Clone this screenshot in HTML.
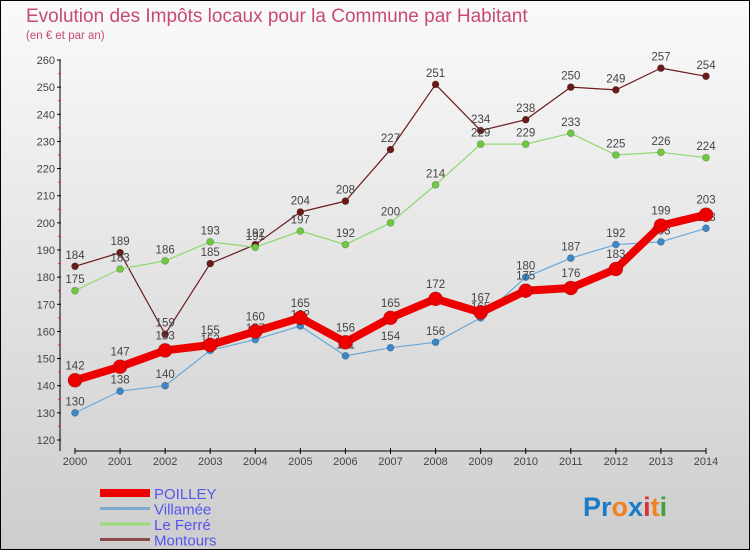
<!DOCTYPE html>
<html><head><meta charset="utf-8"><style>
body{margin:0}
#wrap{width:750px;height:550px;position:relative;overflow:hidden;font-family:"Liberation Sans",sans-serif}
svg text{font-family:"Liberation Sans",sans-serif}
</style></head><body>
<div id="wrap">
<svg id="svg" width="750" height="550" xmlns="http://www.w3.org/2000/svg">
<defs><linearGradient id="bg" x1="0" y1="0" x2="0" y2="1"><stop offset="0" stop-color="#fafafa"/><stop offset="1" stop-color="#cdcdcd"/></linearGradient></defs>
<rect x="0.5" y="0.5" width="749" height="549" fill="url(#bg)" stroke="#000"/>
<text x="26" y="22" font-size="19" fill="#c64a74">Evolution des Impôts locaux pour la Commune par Habitant</text>
<text x="26" y="39" font-size="11.5" fill="#c64a74">(en € et par an)</text>
<g id="axes"></g><g id="series"></g><g id="legend"></g>
<text x="583" y="516" font-size="27" font-weight="bold"><tspan fill="#1a7cc8">Pr</tspan><tspan fill="#f08020">o</tspan><tspan fill="#1a7cc8">x</tspan><tspan fill="#e03030">i</tspan><tspan fill="#f08020">t</tspan><tspan fill="#40a040">i</tspan></text>
</svg></div>
<script>
const years=[2000,2001,2002,2003,2004,2005,2006,2007,2008,2009,2010,2011,2012,2013,2014];
const yTicks=[120,130,140,150,160,170,180,190,200,210,220,230,240,250,260];
const poilley=[142,147,153,155,160,165,156,165,172,167,175,176,183,199,203];
const villamee=[130,138,140,153,157,162,151,154,156,165,180,187,192,193,198];
const leferre=[175,183,186,193,191,197,192,200,214,229,229,233,225,226,224];
const montours=[184,189,159,185,192,204,208,227,251,234,238,250,249,257,254];
const NS="http://www.w3.org/2000/svg";
function xs(i){return 75+i*(706-75)/(years.length-1);}
function ys(v){return 440-(v-120)*(380/140);}
function mk(t,a,p){const e=document.createElementNS(NS,t);for(const k in a)e.setAttribute(k,a[k]);p.appendChild(e);return e;}
const ax=document.getElementById('axes');
let l=mk('line',{x1:60,y1:60,x2:60,y2:451,stroke:'#000','stroke-width':1},ax);


l=mk('line',{x1:75,y1:451,x2:706,y2:451,stroke:'#000','stroke-width':1},ax);


yTicks.forEach(v=>{const y=ys(v);
 mk('line',{x1:57,y1:y,x2:61,y2:y,stroke:'#000'},ax);
 if(v<260)mk('line',{x1:58,y1:y-13.57,x2:61,y2:y-13.57,stroke:'#e03030'},ax);
 const t=mk('text',{x:55,y:y+4,'font-size':11,'text-anchor':'end',fill:'#444'},ax);t.textContent=v;
 
 });
years.forEach((yr,i)=>{const x=xs(i);
 mk('line',{x1:x,y1:448,x2:x,y2:454,stroke:'#000'},ax);
 const t=mk('text',{x:x,y:465,'font-size':11,'text-anchor':'middle',fill:'#444'},ax);t.textContent=yr;
 
 });
const sg=document.getElementById('series');
const defs=[
 {n:'montours',d:montours,c:'#6b1a1a',w:1.2,r:3.5,fc:'#6b1a1a'},
 {n:'le-ferre',d:leferre,c:'#8fd870',w:1.2,r:3.5,fc:'#70c840'},
 {n:'villamee',d:villamee,c:'#6aa8d8',w:1.2,r:3.5,fc:'#3a88c8'},
 {n:'poilley',d:poilley,c:'#ee0000',w:8,r:7,fc:'#ee0000'}];
defs.forEach(s=>{const g=mk('g',{},sg);
 
 
 const p=mk('polyline',{points:s.d.map((v,i)=>xs(i)+','+ys(v)).join(' '),fill:'none',stroke:s.c,'stroke-width':s.w,'stroke-linejoin':'round'},g);
 
 
 s.d.forEach((v,i)=>{const c=mk('circle',{cx:xs(i),cy:ys(v),r:s.r,fill:s.fc,stroke:'rgba(0,0,0,0.3)','stroke-width':0.6},g);
  
  
  const t=mk('text',{x:xs(i),y:ys(v)-(s.r+4),'font-size':11.5,'text-anchor':'middle',fill:'#444'},g);t.textContent=v;
  
  });});
const lg=document.getElementById('legend');
const leg=[['POILLEY','#ee0000',8],['Villamée','#7aaad0',3],['Le Ferré','#98dc78',3],['Montours','#8a4a4a',3]];
leg.forEach((e,i)=>{const y=493+i*15.5;
 const g=mk('g',{},lg);
 
 
 mk('line',{x1:100,y1:y,x2:150,y2:y,stroke:e[1],'stroke-width':e[2]},g);
 const t=mk('text',{x:154,y:y+6,'font-size':15,fill:'#5555ee'},g);t.textContent=e[0];});
</script>
</body></html>
